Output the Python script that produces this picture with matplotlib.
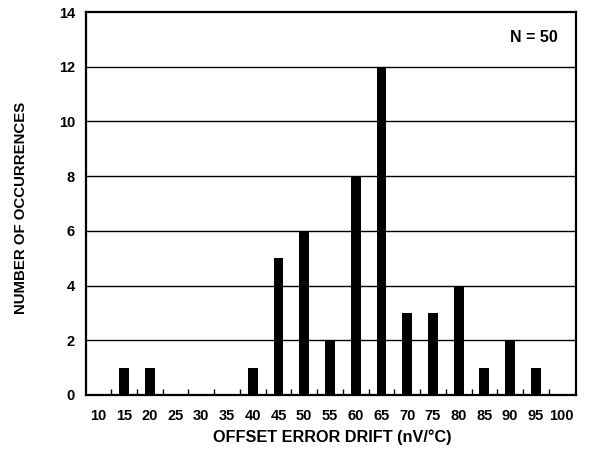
import matplotlib
matplotlib.use("Agg")
import matplotlib.pyplot as plt
import numpy as np

plt.rcParams['font.family'] = ['Liberation Sans', 'DejaVu Sans']
plt.rcParams['font.weight'] = 'bold'

drift_nv = [15, 20, 25, 30, 35, 40, 45, 50, 55, 60, 65, 70, 75, 80, 85, 90, 95]
occurrences = [1, 1, 0, 0, 0, 1, 5, 6, 2, 8, 12, 3, 3, 4, 1, 2, 1]
x_tick_labels = [10, 15, 20, 25, 30, 35, 40, 45, 50, 55, 60, 65, 70, 75, 80, 85, 90, 95, 100]
y_ticks = [0, 2, 4, 6, 8, 10, 12, 14]

W, H = 590, 450
fig = plt.figure(figsize=(W / 100, H / 100), dpi=100)
ax = fig.add_axes([86 / W, 1 - 395 / H, (576 - 86) / W, (395 - 12) / H])

for yv in y_ticks[1:-1]:
    ax.axhline(yv, color='black', lw=1.0, zorder=1)

ax.bar(drift_nv, occurrences, width=1.9, color='black', zorder=2)

ax.set_xlim(7.6, 102.8)
ax.set_ylim(0, 14)
ax.set_xticks(x_tick_labels)
ax.set_xticklabels([str(v) for v in x_tick_labels], fontsize=10.5, fontweight='bold')
ax.tick_params(axis='x', which='major', length=0, pad=10)
ax.set_xticks(np.arange(12.5, 100, 5), minor=True)
ax.tick_params(axis='x', which='minor', direction='in', length=4, width=1.0)
ax.set_yticks(y_ticks)
ax.set_yticklabels([str(v) for v in y_ticks], fontsize=10.5, fontweight='bold')
ax.tick_params(axis='y', length=0, pad=8)

for s in ax.spines.values():
    s.set_linewidth(1.6)

fig.text(332 / W, 1 - 437 / H, 'OFFSET ERROR DRIFT (nV/°C)', ha='center', va='center',
         fontsize=11.7, fontweight='bold')
fig.text(21 / W, 1 - 208 / H, 'NUMBER OF OCCURRENCES', ha='center', va='center',
         rotation=90, fontsize=10.8, fontweight='bold')
ax.text(558 / W, 1 - 38 / H, 'N = 50', transform=fig.transFigure, ha='right', va='center',
        fontsize=11.5, fontweight='bold')

fig.savefig('out.png', dpi=100)
